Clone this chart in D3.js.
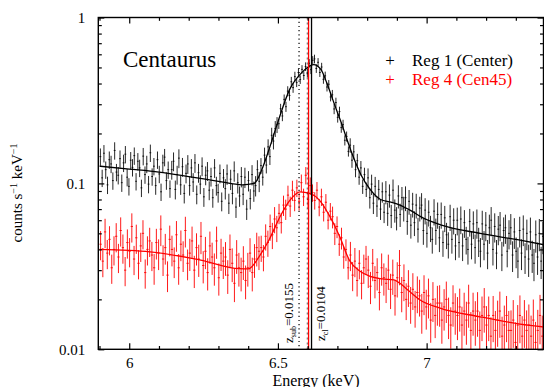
<!DOCTYPE html>
<html>
<head>
<meta charset="utf-8">
<script src="https://cdn.jsdelivr.net/npm/d3@7"></script>
<style>
  body { margin: 0; background: #fff; }
  svg { display: block; }
  text { font-family: "Liberation Serif", "Times New Roman", "DejaVu Serif", serif; fill: #000; }
</style>
</head>
<body>
<div id="chart"></div>
<script>
// --- Data ---
// Reg 1 (Center): binned spectrum, bins of 0.006 keV starting at 5.903 keV
const blackStart = 5.903, blackStep = 0.006;
const blackCounts = [
  .145,.108,.152,.121,.098,.139,.131,.104,.158,.117,
  .112,.141,.101,.133,.150,.109,.096,.138,.125,.147,
  .103,.136,.124,.094,.146,.113,.131,.099,.153,.110,
  .127,.097,.139,.114,.089,.133,.144,.104,.121,.093,
  .121,.136,.092,.113,.142,.098,.126,.087,.115,.131,
  .097,.124,.102,.133,.086,.116,.099,.127,.083,.112,
  .119,.091,.110,.082,.124,.097,.088,.115,.078,.108,
  .093,.114,.076,.106,.087,.119,.072,.101,.084,.110,
  .086,.109,.070,.104,.081,.113,.090,.097,.121,.103,
  .128,.109,.148,.129,.166,.145,.195,.180,.214,.226,
  .229,.282,.255,.321,.290,.360,.339,.410,.378,.440,
  .405,.466,.423,.487,.447,.506,.463,.530,.485,.552,
  .563,.493,.537,.466,.503,.424,.445,.381,.396,.332,
  .342,.281,.307,.250,.271,.217,.226,.182,.192,.156,
  .170,.138,.155,.121,.137,.109,.124,.096,.113,.092,
  .108,.082,.099,.076,.096,.073,.092,.070,.089,.067,
  .089,.066,.085,.064,.091,.069,.062,.084,.065,.082,
  .071,.082,.059,.078,.056,.075,.058,.074,.053,.071,
  .074,.052,.069,.050,.067,.054,.046,.068,.052,.065,
  .047,.065,.044,.062,.049,.043,.063,.046,.060,.042,
  .060,.044,.061,.042,.058,.046,.040,.059,.043,.057,
  .041,.058,.045,.039,.057,.043,.056,.038,.054,.060,
  .040,.055,.038,.053,.056,.037,.052,.054,.039,.050,
  .054,.037,.051,.039,.034,.052,.038,.053,.036,.050,
  .035,.051,.037,.033,.049,.036,.050,.034,.048,.045
];
// relative 1-sigma error, one value per block of 10 bins
const blackErr = [.12,.12,.12,.12,.13,.13,.13,.14,.14,.11,.07,.06,.06,.07,.1,
                  .14,.16,.17,.18,.18,.19,.2,.2,.21,.22];
const blackModelE = [5.90,6.00,6.10,6.20,6.30,6.38,6.42,6.445,6.47,6.50,6.54,6.58,6.62,6.645,
                     6.665,6.69,6.71,6.75,6.78,6.81,6.845,6.88,6.91,6.95,6.98,7.05,7.18,7.31,7.40];
const blackModel = [.127,.122,.117,.110,.103,.098,.100,.120,.160,.235,.370,.465,.520,.485,
                    .400,.300,.240,.150,.112,.092,.080,.077,.074,.068,.063,.056,.050,.0456,.0425];

// Reg 4 (Cen45): bins of 0.0075 keV starting at 5.90375 keV
const redStart = 5.90375, redStep = 0.0075;
const redCounts = [
  .043,.034,.051,.038,.046,.031,.040,.048,
  .036,.052,.041,.030,.044,.039,.055,.035,
  .047,.033,.042,.050,.029,.040,.045,.037,
  .031,.044,.038,.053,.035,.041,.028,.046,
  .040,.034,.049,.031,.043,.037,.052,.033,
  .038,.045,.030,.041,.035,.048,.032,.039,
  .029,.042,.036,.031,.045,.027,.038,.034,
  .036,.028,.040,.033,.025,.037,.031,.029,
  .034,.026,.031,.038,.029,.035,.041,.039,
  .041,.036,.048,.044,.055,.049,.061,.054,
  .066,.058,.074,.070,.085,.073,.091,.079,
  .094,.078,.101,.083,.112,.080,.097,.088,
  .079,.091,.072,.083,.067,.077,.060,.068,
  .063,.050,.055,.043,.047,.036,.040,.031,
  .037,.028,.034,.026,.033,.025,.031,.035,
  .030,.024,.033,.026,.029,.022,.031,.027,
  .025,.030,.023,.028,.021,.027,.032,.022,
  .026,.020,.024,.019,.023,.018,.022,.021,
  .017,.022,.018,.021,.015,.020,.016,.019,
  .019,.015,.018,.020,.016,.014,.019,.017,
  .016,.018,.014,.017,.015,.019,.013,.017,
  .015,.017,.013,.016,.018,.014,.016,.012,
  .016,.013,.015,.017,.012,.014,.016,.013,
  .013,.015,.011,.014,.016,.012,.015,.013,
  .014,.012,.015,.011,.013,.016,.012,.014
];
// relative 1-sigma error, one value per block of 8 bins
const redErr = [.2,.2,.2,.21,.21,.22,.22,.23,.23,.18,.14,.12,.12,.15,.2,.22,.24,.25,.27,.28,
                .29,.3,.31,.32,.33];
const redModelE = [5.90,6.07,6.24,6.37,6.40,6.44,6.47,6.507,6.54,6.574,6.607,6.64,6.675,6.708,
                   6.74,6.776,6.81,6.85,6.89,6.91,6.94,6.978,7.045,7.18,7.314,7.40];
const redModel = [.040,.0387,.0345,.0306,.0305,.037,.0456,.063,.079,.089,.087,.079,.063,.0477,
                  .0345,.0295,.0275,.0266,.0262,.0250,.0225,.0198,.0177,.0157,.0142,.0136];

// reference lines (keV)
const zSubLine = 6.571, redLine = 6.603, zClLine = 6.613;

// ticks
const xMajor = [6, 6.5, 7];
const xLabels = ['6', '6.5', '7'];
const xMinor = [5.9, 6.1, 6.2, 6.3, 6.4, 6.6, 6.7, 6.8, 6.9, 7.1, 7.2, 7.3];
const yMajor = [0.01, 0.1, 1];
const yLabels = ['0.01', '0.1', '1'];
const yMinor = [0.02, 0.03, 0.04, 0.05, 0.06, 0.07, 0.08, 0.09, 0.2, 0.3, 0.4, 0.5, 0.6, 0.7, 0.8, 0.9];

// --- Layout ---
const width = 544, height = 387;
const plot = { left: 98.3, right: 543.5, top: 17.5, bottom: 349.3 };
const serif = '"Liberation Serif", "Times New Roman", serif';

const svg = d3.select('#chart').append('svg')
  .attr('width', width)
  .attr('height', height);

const x = d3.scaleLinear().domain([5.896, 7.393]).range([plot.left, plot.right]);
const y = d3.scaleLog().domain([0.01, 1]).range([plot.bottom, plot.top]);

svg.append('defs').append('clipPath').attr('id', 'clip')
  .append('rect')
  .attr('x', plot.left).attr('y', plot.top)
  .attr('width', plot.right - plot.left).attr('height', plot.bottom - plot.top);

// --- Data with error bars ---
function drawSeries(vals, errs, start, step, block, color, opacity) {
  const pts = vals.map((v, i) => ({ e: start + step * i, v: v, err: errs[Math.floor(i / block)] }));
  const g = svg.append('g')
    .attr('clip-path', 'url(#clip)')
    .attr('stroke', color)
    .attr('stroke-opacity', opacity)
    .attr('stroke-width', 1);

  g.append('g').selectAll('line')
    .data(pts)
    .join('line')
    .attr('x1', d => x(d.e)).attr('x2', d => x(d.e))
    .attr('y1', d => y(d.v * (1 - d.err)))
    .attr('y2', d => y(d.v * (1 + d.err)));

  g.append('g').selectAll('line')
    .data(pts)
    .join('line')
    .attr('x1', d => x(d.e - step / 2)).attr('x2', d => x(d.e + step / 2))
    .attr('y1', d => y(d.v)).attr('y2', d => y(d.v));
}

function drawModel(es, vals, color) {
  const line = d3.line()
    .x(d => x(d[0]))
    .y(d => y(d[1]))
    .curve(d3.curveMonotoneX);
  svg.append('path')
    .datum(es.map((e, i) => [e, vals[i]]))
    .attr('clip-path', 'url(#clip)')
    .attr('fill', 'none')
    .attr('stroke', color)
    .attr('stroke-width', 1.3)
    .attr('d', line);
}

drawSeries(blackCounts, blackErr, blackStart, blackStep, 10, '#000', 0.85);
drawSeries(redCounts, redErr, redStart, redStep, 8, '#ff0000', 0.9);
drawModel(blackModelE, blackModel, '#000');
drawModel(redModelE, redModel, '#ff0000');

// --- Vertical reference lines ---
svg.append('line')
  .attr('x1', x(zSubLine)).attr('x2', x(zSubLine))
  .attr('y1', plot.top).attr('y2', plot.bottom)
  .attr('stroke', '#000').attr('stroke-width', 1.2)
  .attr('stroke-dasharray', '1.2,3');
svg.append('line')
  .attr('x1', x(redLine)).attr('x2', x(redLine))
  .attr('y1', plot.top).attr('y2', plot.bottom)
  .attr('stroke', '#ff0000').attr('stroke-width', 1.3);
svg.append('line')
  .attr('x1', x(redLine) - 1.3).attr('x2', x(redLine) - 1.3)
  .attr('y1', plot.top).attr('y2', plot.bottom)
  .attr('stroke', '#000').attr('stroke-width', 0.6)
  .attr('stroke-dasharray', '2,3');
svg.append('line')
  .attr('x1', x(zClLine)).attr('x2', x(zClLine))
  .attr('y1', plot.top).attr('y2', plot.bottom)
  .attr('stroke', '#000').attr('stroke-width', 1.3);

// line labels
const subLabel = svg.append('text')
  .attr('transform', `translate(${x(zSubLine) - 6},343) rotate(-90)`)
  .attr('font-family', serif)
  .style('font-size', '13px');
subLabel.append('tspan').text('z');
subLabel.append('tspan').attr('baseline-shift', '-3').style('font-size', '8px').text('sub');
subLabel.append('tspan').text('=0.0155');

const clLabel = svg.append('text')
  .attr('transform', `translate(${x(zClLine) + 13},341) rotate(-90)`)
  .attr('font-family', serif)
  .style('font-size', '13px');
clLabel.append('tspan').text('z');
clLabel.append('tspan').attr('baseline-shift', '-3').style('font-size', '8px').text('cl');
clLabel.append('tspan').text('=0.0104');

// --- Axes ---
function styleAxis(g) {
  g.select('.domain').remove();
  g.attr('font-family', serif);
  g.selectAll('line').attr('stroke', '#000').attr('stroke-width', 1.2);
  g.selectAll('text').style('font-size', '15px').style('font-family', serif).attr('fill', '#000');
}

svg.append('g')
  .attr('transform', `translate(0,${plot.bottom})`)
  .call(d3.axisBottom(x).tickValues(xMajor).tickSize(-6).tickPadding(8.5).tickFormat((d, i) => xLabels[i]))
  .call(styleAxis);
svg.append('g')
  .attr('transform', `translate(0,${plot.bottom})`)
  .call(d3.axisBottom(x).tickValues(xMinor).tickSize(-3.3).tickFormat(''))
  .call(styleAxis);
svg.append('g')
  .attr('transform', `translate(0,${plot.top})`)
  .call(d3.axisTop(x).tickValues(xMajor).tickSize(-6).tickFormat(''))
  .call(styleAxis);
svg.append('g')
  .attr('transform', `translate(0,${plot.top})`)
  .call(d3.axisTop(x).tickValues(xMinor).tickSize(-3.3).tickFormat(''))
  .call(styleAxis);

svg.append('g')
  .attr('transform', `translate(${plot.left},0)`)
  .call(d3.axisLeft(y).tickValues(yMajor).tickSize(-6).tickPadding(13).tickFormat((d, i) => yLabels[i]))
  .call(styleAxis);
svg.append('g')
  .attr('transform', `translate(${plot.left},0)`)
  .call(d3.axisLeft(y).tickValues(yMinor).tickSize(-3.5).tickFormat(''))
  .call(styleAxis);
svg.append('g')
  .attr('transform', `translate(${plot.right},0)`)
  .call(d3.axisRight(y).tickValues(yMajor).tickSize(-6).tickFormat(''))
  .call(styleAxis);
svg.append('g')
  .attr('transform', `translate(${plot.right},0)`)
  .call(d3.axisRight(y).tickValues(yMinor).tickSize(-3.5).tickFormat(''))
  .call(styleAxis);

// frame
svg.append('rect')
  .attr('x', plot.left).attr('y', plot.top)
  .attr('width', plot.right - plot.left).attr('height', plot.bottom - plot.top)
  .attr('fill', 'none').attr('stroke', '#000').attr('stroke-width', 1.4);

// axis titles
svg.append('text')
  .attr('x', 316).attr('y', 386)
  .attr('text-anchor', 'middle')
  .attr('font-family', serif)
  .style('font-size', '16px')
  .text('Energy (keV)');

const yTitle = svg.append('text')
  .attr('transform', 'translate(22,193) rotate(-90)')
  .attr('text-anchor', 'middle')
  .attr('font-family', serif)
  .style('font-size', '15px');
yTitle.append('tspan').text('counts s');
yTitle.append('tspan').attr('baseline-shift', '5').style('font-size', '10px').text('\u22121');
yTitle.append('tspan').text(' keV');
yTitle.append('tspan').attr('baseline-shift', '5').style('font-size', '10px').text('\u22121');

// --- Annotations ---
svg.append('text')
  .attr('x', 123).attr('y', 67)
  .attr('font-family', serif)
  .style('font-size', '23px')
  .text('Centaurus');

const legend = [
  { label: 'Reg 1 (Center)', color: '#000' },
  { label: 'Reg 4 (Cen45)', color: '#ff0000' }
];
legend.forEach((d, i) => {
  const yy = 66 + i * 19;
  svg.append('text')
    .attr('x', 390).attr('y', yy)
    .attr('text-anchor', 'middle')
    .attr('font-family', serif)
    .style('font-size', '17px')
    .style('fill', d.color)
    .text('+');
  svg.append('text')
    .attr('x', 412).attr('y', yy)
    .attr('font-family', serif)
    .style('font-size', '17px')
    .style('fill', d.color)
    .text(d.label);
});
</script>
</body>
</html>
